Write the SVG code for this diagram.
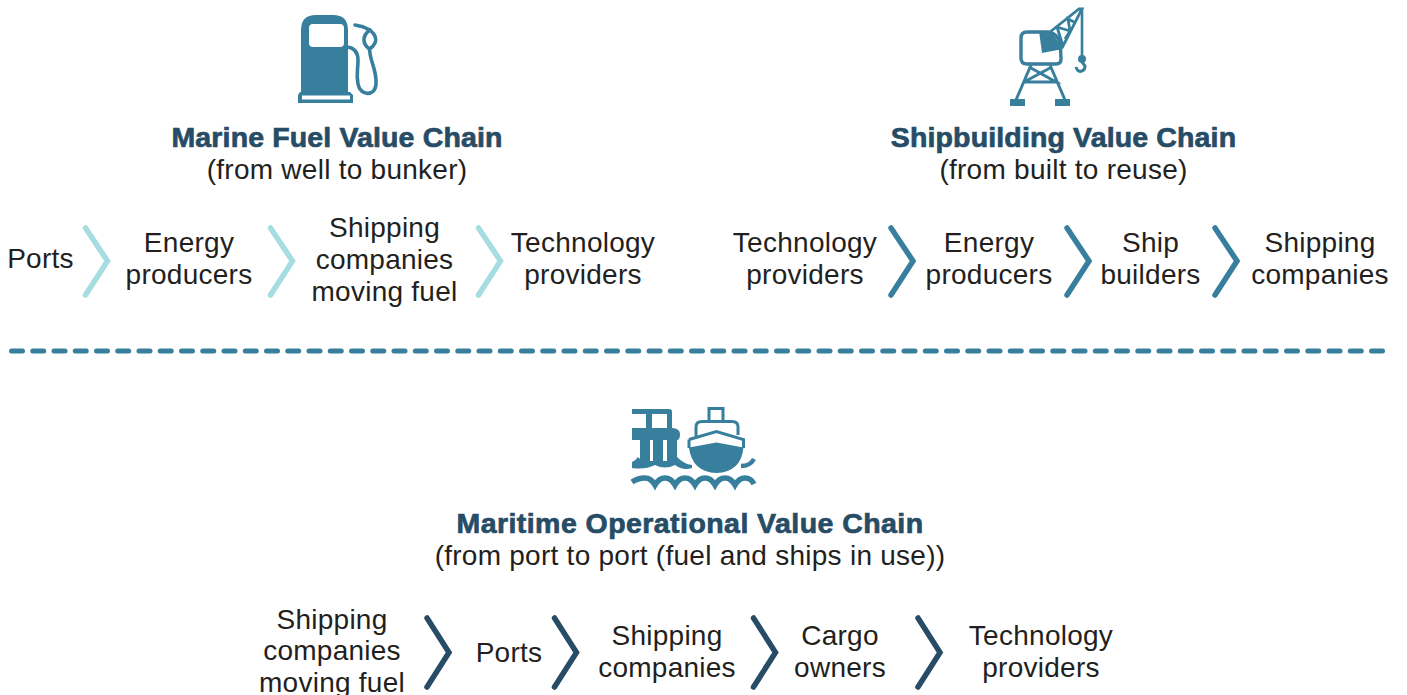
<svg xmlns="http://www.w3.org/2000/svg" width="1407" height="695" viewBox="0 0 1407 695">
<style>
text{font-family:"Liberation Sans",Arial,sans-serif;font-size:28px;letter-spacing:.26px;fill:#231f20;text-anchor:middle}
.t{font-weight:bold;font-size:28.5px;letter-spacing:.14px;fill:#264c66;stroke:#264c66;stroke-width:.7px}
.c{fill:none;stroke-width:5.5px;stroke-linecap:round;stroke-linejoin:miter}
.a{stroke:#a5dde0}.b{stroke:#387f9e}.d{stroke:#264c66}
.f{fill:#387f9e}.l{fill:none;stroke:#387f9e}
</style>
<rect width="1407" height="695" fill="#fff"/>
<g id="icon-fuel">
<path class="f" fill-rule="evenodd" d="M301 95V30Q301 15 316 15H333Q348 15 348 30V95ZM313 24Q309 24 309 28V43Q309 47 313 47H340Q344 47 344 43V28Q344 24 340 24Z"/>
<path class="f" fill-rule="evenodd" d="M298 103V95L300 92H350L353 95V103ZM302 95.500V99.500H350V95.500Z"/>
<path class="l" stroke-width="3.6" d="M348 47Q358 49 358 60C358 70 356 74 358 84C360 96 375 97 376 84C377 70 370 62 369.500 49"/>
<path class="l" stroke-width="3.6" stroke-linecap="round" d="M355 25Q363 26 370 30Q378 37 375 43Q373 47 369.500 49Q364 45 364 40Q364 34 370 30"/>
</g>
<g id="icon-crane">
<path class="l" stroke-width="3.4" d="M1027 32H1048Q1060 34 1060.500 48L1061 59Q1061 64 1056 64H1027Q1021 64 1021 58V38Q1021 32 1027 32Z"/>
<path class="f" d="M1039 31H1051L1063 49L1042 53Z"/>
<path class="l" stroke-width="2.800" d="M1050 32L1079 9H1082L1062 48M1057 27L1063 46M1057 27L1070 31L1065 39M1070 31L1068 19L1076 23"/>
<path class="l" stroke-width="2.600" d="M1082 9V58"/>
<circle class="f" cx="1082" cy="59" r="4"/>
<path class="l" stroke-width="3" d="M1082 62L1085 66Q1085 71 1080 71.500Q1077 71 1076 67"/>
<path class="l" stroke-width="3" d="M1031 65L1016 100M1050 65L1065 100M1031 68L1056 82L1024 82L1050 68"/>
<path class="f" d="M1010 99H1025V106H1010ZM1055 99H1070V106H1055Z"/>
</g>
<g id="icon-ports">
<path class="f" fill-rule="evenodd" d="M632 409H669Q672 409 672 412V428H673Q680 429 680 434Q680 440 677 440V457Q684 464 692 465V468Q683 471 675 465Q665 470 655 465Q645 470 632 468V462Q636 460 638 457L640 459V440H632V428H646V414H632ZM652 414V428H667V414ZM650 440V461L653 461V440ZM663 440V461L667 461V440Z"/>
<path class="f" d="M689 447.500L716.500 442.500L743.500 447.500Q741 472 716.500 473Q692 472 689 447.500Z"/>
<path class="l" stroke-width="3" d="M689 439.500L716.500 431.500L743.500 439.500V448M689 439.500V448"/>
<path class="l" stroke-width="3" d="M696 436V427Q696 421.500 702 421.500H732Q738 421.500 738 427V435"/>
<path class="l" stroke-width="3" d="M709 420V408.500H723V420"/>
<path class="l" stroke-width="5.500" d="M632 482Q638 478 645 478Q651 478 655 485Q659 478 665 478Q671 478 675 485Q679 478 685 478Q691 478 695 485Q699 478 705 478Q711 478 715 485Q719 478 725 478Q731 478 735 485Q739 478 745 478Q751 478 754 484"/>
<path class="l" stroke-width="4.500" d="M741 466Q750 466 754 459"/>
</g>
<g id="title-fuel"><text class="t" x="337" y="147">Marine Fuel Value Chain</text><text x="337" y="179">(from well to bunker)</text></g>
<g id="title-ship"><text class="t" x="1063.500" y="147">Shipbuilding Value Chain</text><text x="1063.500" y="179">(from built to reuse)</text></g>
<g id="title-ops"><text class="t" style="letter-spacing:.44px" x="690" y="533">Maritime Operational Value Chain</text><text x="690" y="565">(from port to port (fuel and ships in use))</text></g>
<g id="n1"><text x="40.500" y="268">Ports</text></g>
<g id="n2"><text x="189" y="252">Energy</text><text x="189" y="284">producers</text></g>
<g id="n3"><text x="384.500" y="237">Shipping</text><text x="384.500" y="269">companies</text><text x="384.500" y="301">moving fuel</text></g>
<g id="n4"><text x="583" y="252">Technology</text><text x="583" y="284">providers</text></g>
<g id="n5"><text x="805" y="252">Technology</text><text x="805" y="284">providers</text></g>
<g id="n6"><text x="989" y="252">Energy</text><text x="989" y="284">producers</text></g>
<g id="n7"><text x="1150.500" y="252">Ship</text><text x="1150.500" y="284">builders</text></g>
<g id="n8"><text x="1320" y="252">Shipping</text><text x="1320" y="284">companies</text></g>
<g id="n9"><text x="332" y="629">Shipping</text><text x="332" y="660">companies</text><text x="332" y="692">moving fuel</text></g>
<g id="n10"><text x="509" y="662">Ports</text></g>
<g id="n11"><text x="667" y="645">Shipping</text><text x="667" y="677">companies</text></g>
<g id="n12"><text x="840" y="645">Cargo</text><text x="840" y="677">owners</text></g>
<g id="n13"><text x="1041" y="645">Technology</text><text x="1041" y="677">providers</text></g>
<g id="connectors">
<path class="c a" d="M85.500 228L107.500 261L85.500 295M270.500 228L292.500 261L270.500 295M478.500 228L500.500 261L478.500 295"/>
<path class="c b" d="M891 228L913 261L891 295M1067 228L1089 261L1067 295M1215 228L1237 261L1215 295"/>
<path class="c d" d="M427 618L449 652.500L427 687M554.500 618L576.500 652.500L554.500 687M753.500 618L775.500 652.500L753.500 687M918 618L940 652.500L918 687"/>
<path d="M11.500 351H1385" fill="none" stroke="#387f9e" stroke-width="5" stroke-linecap="round" stroke-dasharray="11 10.250"/>
</g>
</svg>
